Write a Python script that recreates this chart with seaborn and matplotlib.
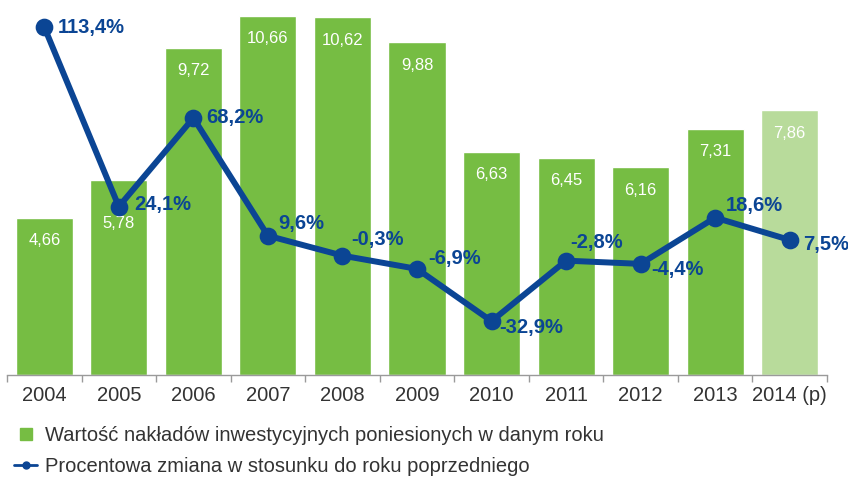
import matplotlib
matplotlib.use("Agg")
import matplotlib.pyplot as plt
import seaborn as sns
import numpy as np
from matplotlib.lines import Line2D

# dane
years = ["2004", "2005", "2006", "2007", "2008", "2009", "2010", "2011", "2012", "2013", "2014 (p)"]
values = [4.66, 5.78, 9.72, 10.66, 10.62, 9.88, 6.63, 6.45, 6.16, 7.31, 7.86]
pct = [113.4, 24.1, 68.2, 9.6, -0.3, -6.9, -32.9, -2.8, -4.4, 18.6, 7.5]
legend_labels = ["Wartość nakładów inwestycyjnych poniesionych w danym roku",
                 "Procentowa zmiana w stosunku do roku poprzedniego"]

green = "#76bd43"
green_light = "#b8db9b"
blue = "#0b4594"
text_col = "#333333"

sns.set_theme(style="white")
plt.rcParams["font.family"] = ["Liberation Sans", "DejaVu Sans"]

fig = plt.figure(figsize=(8.48, 4.79), dpi=100)
ax = fig.add_axes([7 / 848, 104 / 479, 820 / 848, 375 / 479])

palette = [green] * (len(years) - 1) + [green_light]
sns.barplot(x=years, y=values, hue=years, palette=palette, legend=False,
            width=0.765, saturation=1, ax=ax)
ax.set_ylim(0, 11.13)
ax.set_xlim(-0.5, len(years) - 0.5)

# etykiety słupków (2005 niżej, żeby nie kolidowała z linią)
for i, v in enumerate(values):
    dy = -43 if i == 1 else -23
    ax.annotate(f"{v:.2f}".replace(".", ","), (i, v), xytext=(0, dy),
                textcoords="offset pixels", ha="center", va="center",
                color="white", fontsize=12)

ax2 = ax.twinx()
sns.pointplot(x=years, y=pct, color=blue, markersize=9.5, linewidth=4.3,
              ax=ax2, errorbar=None)
ax2.set_ylim(-59.7, 126.9)
ax2.set_xlim(-0.5, len(years) - 0.5)

# przesunięcia etykiet procentowych (px)
offs = [(13, 0), (15, 2), (13, 0), (10, 12), (9, 16), (11, 10),
        (8, -6), (4, 18), (11, -6), (11, 12), (13, -5)]
for i, p in enumerate(pct):
    dx, dy = offs[i]
    ax2.annotate(f"{p:.1f}%".replace(".", ","), (i, p), xytext=(dx, dy),
                 textcoords="offset pixels", ha="left", va="center",
                 color=blue, fontsize=14.5, fontweight="bold", zorder=10)

for a in (ax, ax2):
    for s in ["top", "left", "right"]:
        a.spines[s].set_visible(False)
    a.set_yticks([])
    a.set_ylabel("")
ax2.spines["bottom"].set_visible(False)
ax2.tick_params(axis="x", which="both", bottom=False, labelbottom=False)

ax.spines["bottom"].set_color("#9a9a9a")
ax.spines["bottom"].set_linewidth(1)
ax.set_xticks(np.arange(len(years)))
ax.set_xticklabels(years)
ax.set_xticks(np.arange(len(years) + 1) - 0.5, minor=True)
ax.tick_params(axis="x", which="major", length=0, pad=8, labelsize=14.5, labelcolor=text_col)
ax.tick_params(axis="x", which="minor", bottom=True, length=5, color="#9a9a9a", width=1)

handles = [Line2D([0], [0], color=green, marker="s", linestyle="none", markersize=9,
                  label=legend_labels[0]),
           Line2D([0], [0], color=blue, lw=2, marker="o", markersize=5, label=legend_labels[1])]
fig.legend(handles=handles, loc="upper left", bbox_to_anchor=(0.0, 0.14),
           frameon=False, fontsize=14.5, labelcolor=text_col, handlelength=1.15,
           handletextpad=0.4, labelspacing=0.6, borderaxespad=0.3)

fig.savefig("out.png", dpi=100)
